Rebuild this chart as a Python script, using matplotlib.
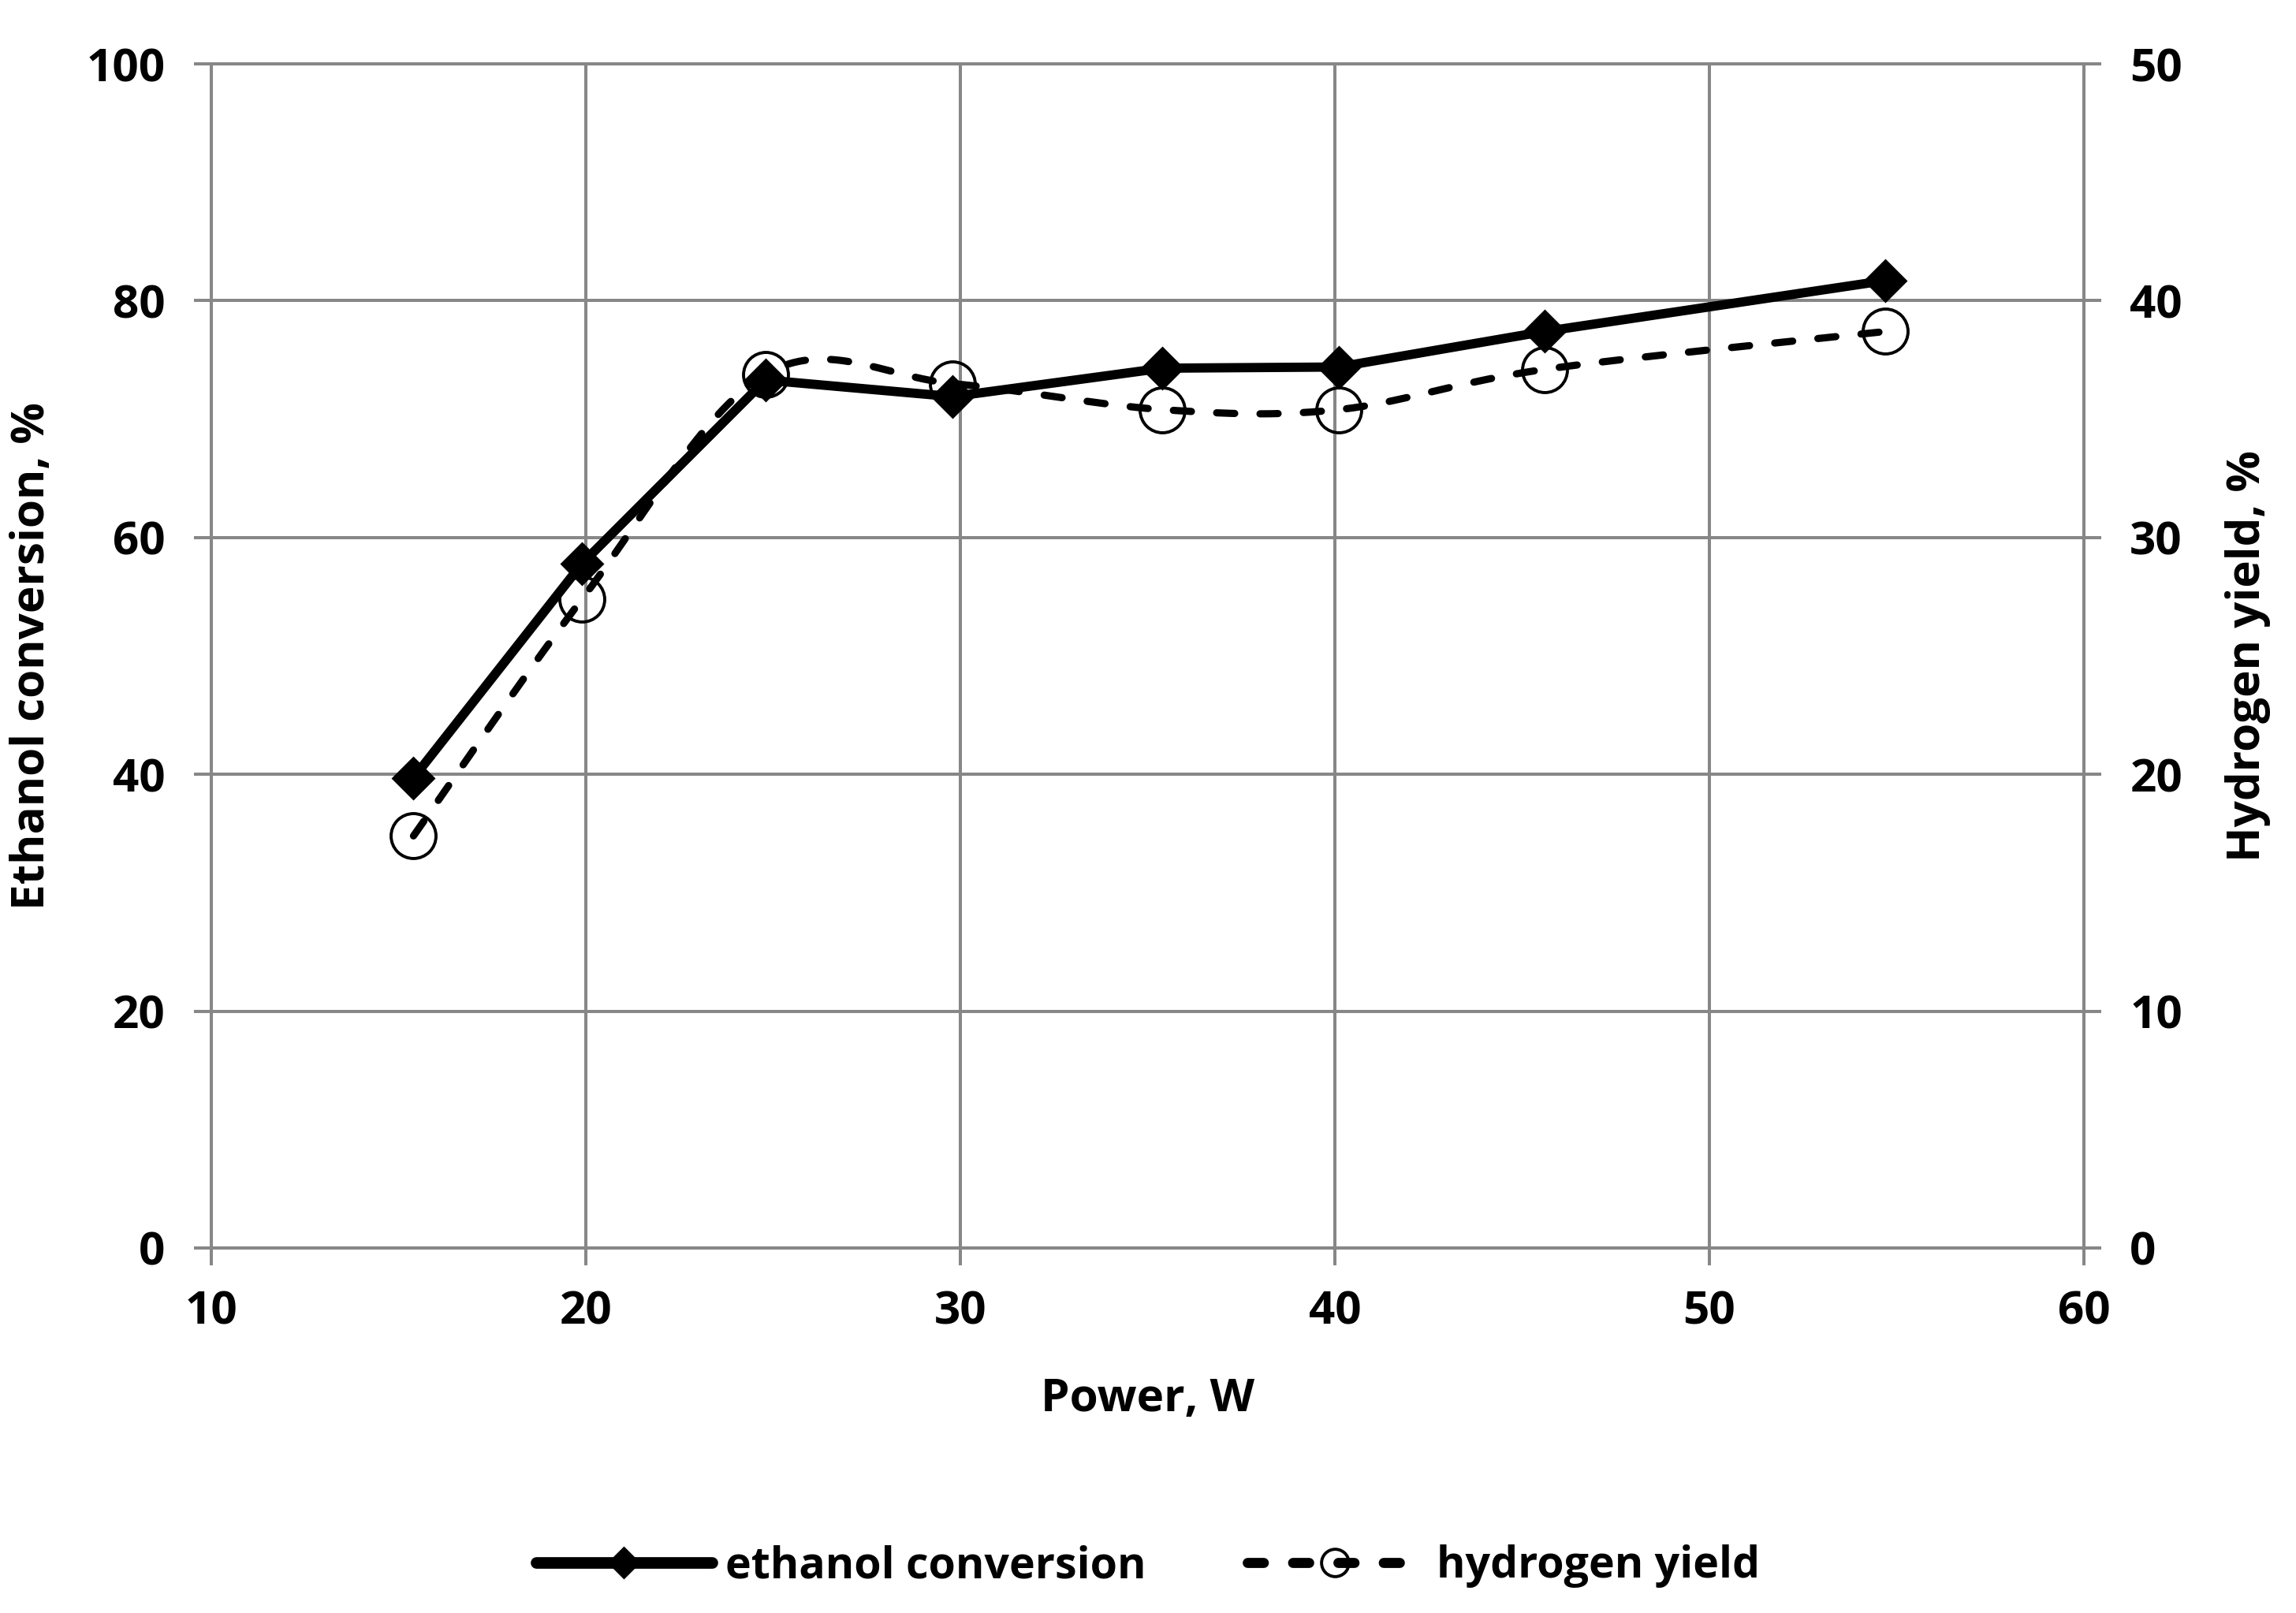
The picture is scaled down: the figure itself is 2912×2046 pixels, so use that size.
import numpy as np
import matplotlib
matplotlib.use("Agg")
import matplotlib.pyplot as plt
from matplotlib.lines import Line2D

# ---- data ----
power = [15.4, 19.9, 24.8, 29.8, 35.4, 40.1, 45.6, 54.7]
ethanol_conversion = [39.7, 57.8, 73.3, 71.9, 74.3, 74.4, 77.4, 81.7]
hydrogen_yield = [17.4, 27.4, 36.9, 36.5, 35.4, 35.4, 37.1, 38.7]

x_ticks = [10, 20, 30, 40, 50, 60]
left_ticks = [0, 20, 40, 60, 80, 100]
right_ticks = [0, 10, 20, 30, 40, 50]

plt.rcParams['font.family'] = ['Open Sans', 'DejaVu Sans']
plt.rcParams['font.weight'] = 'bold'
FS = 21
LFS = 20
GRID = '#878787'
GLW = 1.45

fig = plt.figure(figsize=(14.56, 10.23), dpi=200)
ax1 = fig.add_axes([0.092, 0.2263, 0.8156, 0.7341])
ax2 = ax1.twinx()
ax1.set_zorder(ax2.get_zorder() + 1)
ax1.patch.set_visible(False)

ax1.set_xlim(10, 60)
ax1.set_ylim(0, 100)
ax2.set_ylim(0, 50)
ax1.set_xticks(x_ticks)
ax1.set_yticks(left_ticks)
ax2.set_yticks(right_ticks)

for a in (ax1, ax2):
    for s in a.spines.values():
        s.set_color(GRID)
        s.set_linewidth(GLW)
ax2.grid(True, color=GRID, linewidth=GLW)
ax2.xaxis.set_visible(True)
ax2.set_xticks(x_ticks)
ax2.tick_params(axis='x', length=0, labelbottom=False, bottom=False)
ax2.xaxis.grid(True, color=GRID, linewidth=GLW)

ax1.tick_params(axis='both', direction='out', length=8, width=GLW, color=GRID,
                labelsize=FS)
ax1.tick_params(axis='y', pad=13)
ax1.tick_params(axis='x', pad=11)
ax2.tick_params(axis='y', direction='out', length=8, width=GLW, color=GRID,
                labelsize=FS, pad=13)
for lab in ax1.get_xticklabels() + ax1.get_yticklabels() + ax2.get_yticklabels():
    lab.set_fontweight('bold')

# ---- ethanol conversion (solid, diamonds) ----
ax1.plot(power, ethanol_conversion, color='black', linewidth=4.25,
         marker='D', markersize=13, markerfacecolor='black',
         markeredgecolor='black', zorder=3)

# ---- hydrogen yield (smoothed dashed line, open circles) ----
pts = ax2.transData.transform(np.column_stack([power, hydrogen_yield]))
n = len(pts)
curve = [pts[0]]
t = np.linspace(0, 1, 40)[1:]
for i in range(n - 1):
    p0 = pts[i - 1] if i > 0 else pts[i]
    p1 = pts[i]
    p2 = pts[i + 1]
    p3 = pts[i + 2] if i + 2 < n else pts[i + 1]
    c1 = p1 + (p2 - p0) / 6.0
    c2 = p2 - (p3 - p1) / 6.0
    tt = t[:, None]
    seg = ((1 - tt) ** 3) * p1 + 3 * ((1 - tt) ** 2) * tt * c1 + 3 * (1 - tt) * tt ** 2 * c2 + tt ** 3 * p2
    curve.extend(seg)
curve = ax2.transData.inverted().transform(np.array(curve))
ax2.plot(curve[:, 0], curve[:, 1], color='black', linewidth=3.3,
         dashes=(2.5, 3.5), dash_capstyle='round', zorder=3)
ax2.plot(power, hydrogen_yield, linestyle='none', marker='o', markersize=20.5,
         markerfacecolor='none', markeredgecolor='black', markeredgewidth=1.4,
         zorder=4)

# ---- labels ----
ax1.set_xlabel('Power, W', fontsize=FS, fontweight='bold', va='center')
ax1.xaxis.set_label_coords(0.5, -0.128)
ax1.set_ylabel('Ethanol conversion, %', fontsize=FS, fontweight='bold', va='center')
ax1.yaxis.set_label_coords(-0.0956, 0.5)
ax2.set_ylabel('Hydrogen yield, %', fontsize=FS, fontweight='bold', va='center',
               rotation=90)
ax2.yaxis.set_label_coords(1.0876, 0.5)

# ---- legend ----
h1 = Line2D([], [], color='black', linewidth=5.3, solid_capstyle='round',
            marker='D', markersize=9.5,
            markerfacecolor='black', markeredgecolor='black')
h2 = Line2D([], [], color='black', linewidth=4.6, dashes=(1.6, 2.9),
            dash_capstyle='round', marker='o', markersize=12.5,
            markerfacecolor='none', markeredgecolor='black', markeredgewidth=1.4)
leg = fig.legend([h1, h2], ['ethanol conversion', 'hydrogen yield'],
                 loc='center', bbox_to_anchor=(0.5, 0.029), ncol=2,
                 frameon=False, handlelength=4.0,
                 handletextpad=0.32, columnspacing=2.3,
                 prop={'weight': 'bold', 'size': LFS})

fig.savefig('out.png', dpi=200, facecolor='white')
